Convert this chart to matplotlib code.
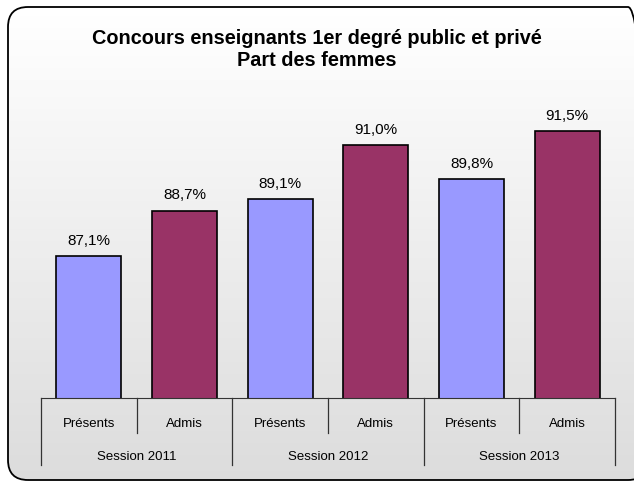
import numpy as np
import matplotlib.pyplot as plt
from matplotlib.patches import FancyBboxPatch

plt.rcParams['font.family'] = ['Liberation Sans', 'DejaVu Sans']

# donnees
sessions = ['Session 2011', 'Session 2012', 'Session 2013']
sous_cat = ['Présents', 'Admis']
valeurs = [87.1, 88.7, 89.1, 91.0, 89.8, 91.5]
couleurs = ['#9999FF', '#993366']

fig = plt.figure(figsize=(6.34, 4.83), dpi=100)

# fond degrade (coordonnees en pixels)
fond = fig.add_axes([0, 0, 1, 1], zorder=-2)
yy = np.linspace(0, 483, 121)
gris = np.linspace(0.86, 1.0, 120).reshape(-1, 1)
maille = fond.pcolormesh([0, 634], yy, gris, cmap='gray', vmin=0, vmax=1,
                         shading='flat', edgecolors='none', zorder=1)
bord = FancyBboxPatch((8, 3), 640, 473,
                      boxstyle='round,pad=0,rounding_size=20',
                      fill=False, ec='black', lw=1.3, zorder=3)
fond.add_patch(bord)
maille.set_clip_path(bord)
fond.set_xlim(0, 634)
fond.set_ylim(0, 483)
fond.axis('off')

ax = fig.add_axes([41 / 634, 85 / 483, 574 / 634, 318 / 483])
ax.patch.set_alpha(0)
x = np.arange(len(valeurs))
cols = [couleurs[i % 2] for i in range(len(valeurs))]
ax.bar(x, valeurs, width=0.68, color=cols, edgecolor='black', lw=1.2)
ax.set_xlim(-0.5, len(valeurs) - 0.5)
ax.set_ylim(82.1, 93.3)
for xi, v in zip(x, valeurs):
    ax.text(xi, v + 0.3, ('%.1f%%' % v).replace('.', ','), ha='center', va='bottom', fontsize=11)

for s in ['top', 'right', 'left']:
    ax.spines[s].set_visible(False)
ax.spines['bottom'].set_color('#333333')
ax.set_xticks([])
ax.set_yticks([])

# axe a deux niveaux
tr = ax.get_xaxis_transform()
for i in range(len(valeurs) + 1):
    b = i - 0.5
    if i % 2 == 0:
        ax.plot([b, b], [0, -67 / 318], transform=tr, color='#333333', lw=0.9, clip_on=False)
    else:
        ax.plot([b, b], [0, -35 / 318], transform=tr, color='#333333', lw=0.9, clip_on=False)
for i, xi in enumerate(x):
    ax.text(xi, -26 / 318, sous_cat[i % 2], transform=tr, ha='center', va='center', fontsize=9.5)
for j, s in enumerate(sessions):
    ax.text(2 * j + 0.5, -59 / 318, s, transform=tr, ha='center', va='center', fontsize=9.5)

fig.text(0.5, 433.5 / 483, 'Concours enseignants 1er degré public et privé\nPart des femmes',
         ha='center', va='center', fontsize=14.3, fontweight='bold', linespacing=1.25)

fig.savefig('out.png', dpi=100)
